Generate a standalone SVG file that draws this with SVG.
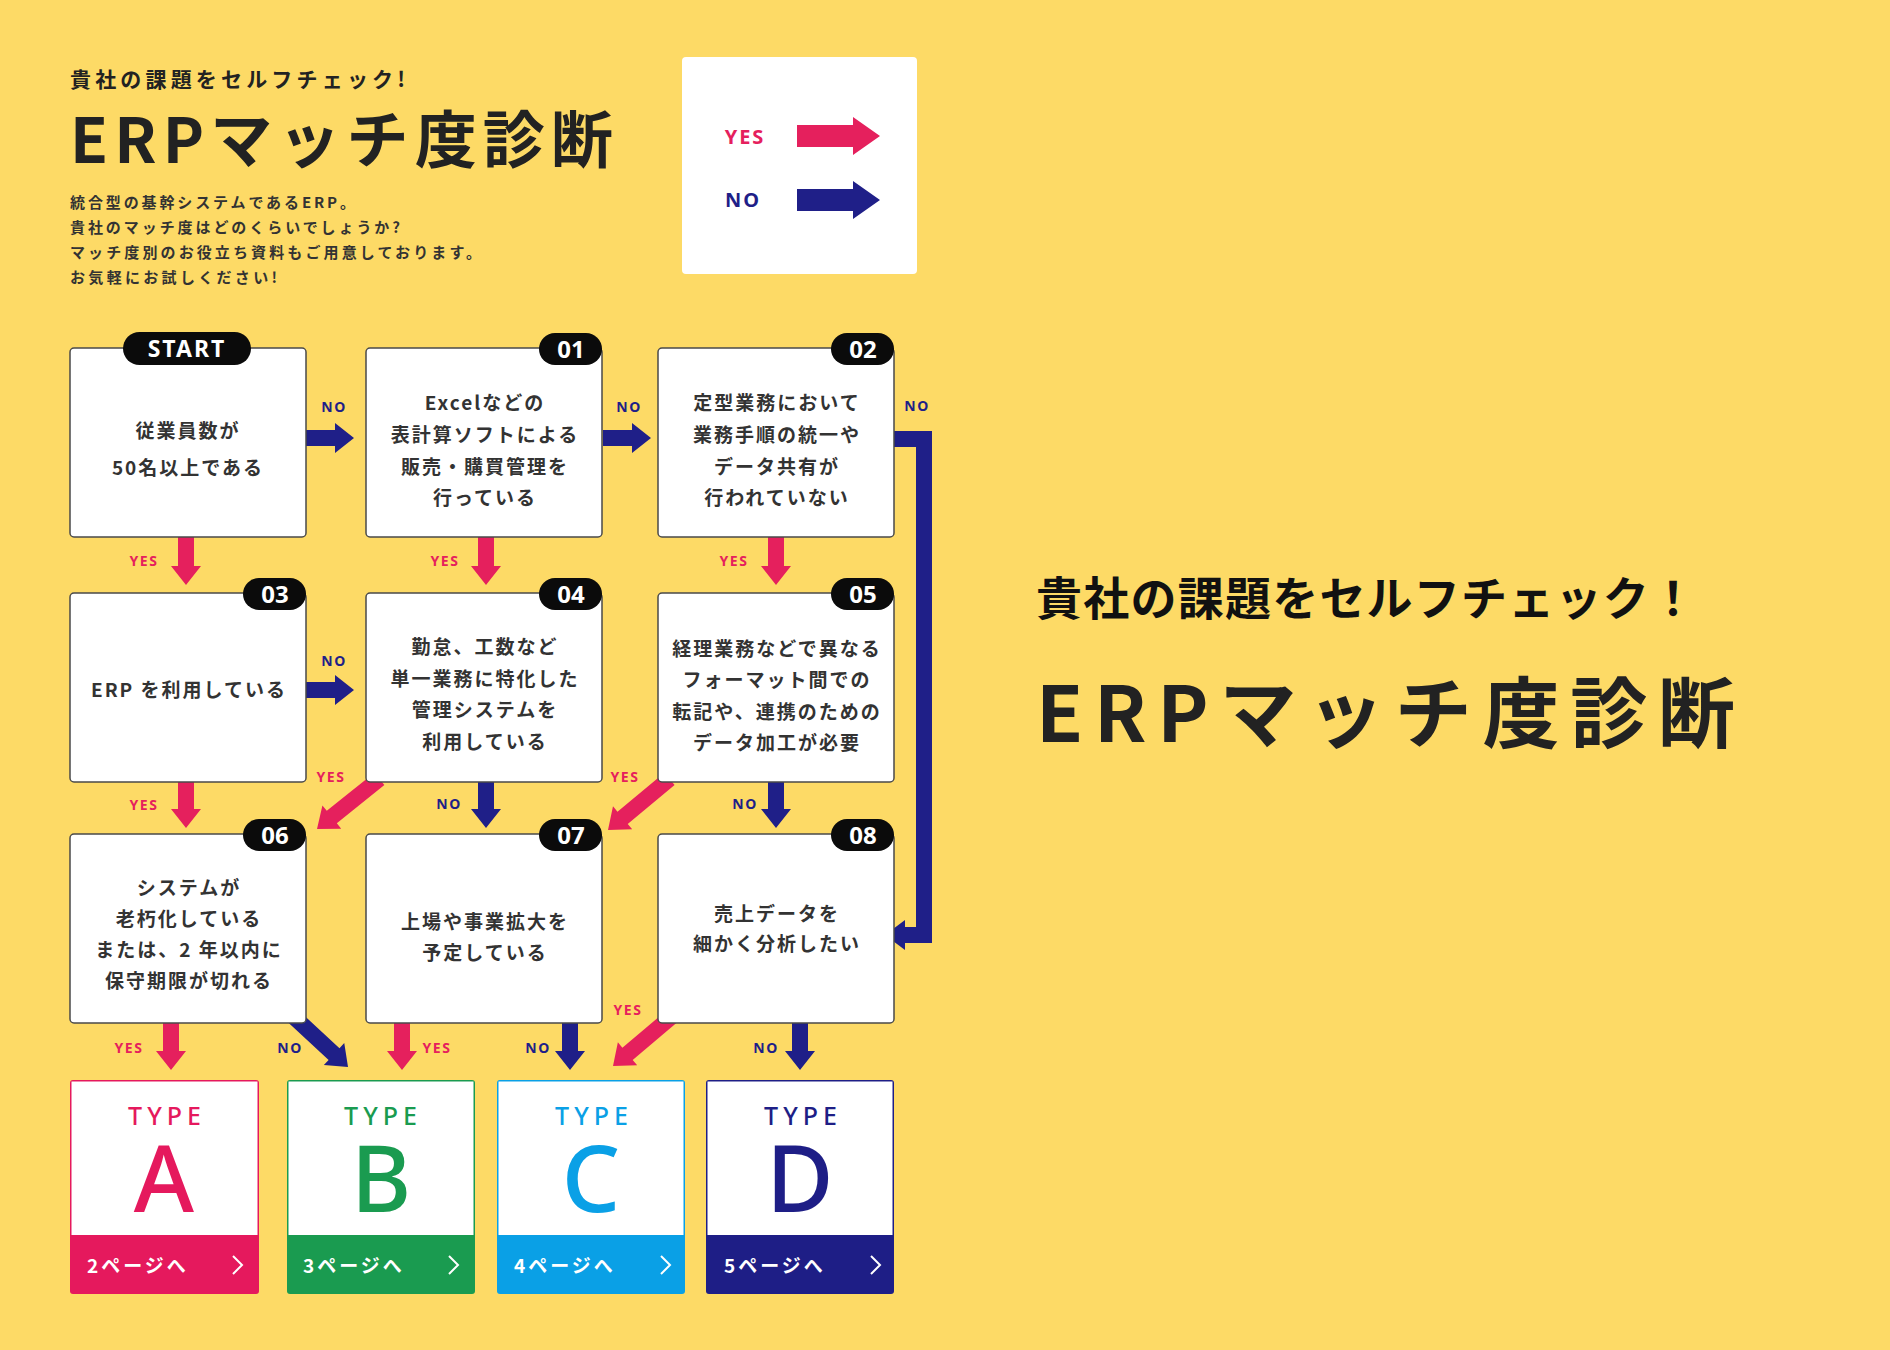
<svg xmlns="http://www.w3.org/2000/svg" xmlns:xlink="http://www.w3.org/1999/xlink" width="1890" height="1350" viewBox="0 0 1890 1350">
<style>
.jp{font-family:"Noto Sans CJK JP","Noto Sans",sans-serif;}
.en{font-family:"Noto Sans","Liberation Sans",sans-serif;}
.box{fill:#fff;stroke:#4a4a4a;stroke-width:1.5;}
.bt{font-family:"Noto Sans CJK JP",sans-serif;font-size:19px;font-weight:700;fill:#333;text-anchor:middle;letter-spacing:2px;}
.badge{fill:#0b0b0b;}
.bn{font-family:"Noto Sans","Liberation Sans",sans-serif;font-size:24px;font-weight:700;fill:#fff;text-anchor:middle;}
.yes{fill:#E5205D;}
.no{fill:#1F1F88;}
.lbl{font-family:"Noto Sans","Liberation Sans",sans-serif;font-size:14px;font-weight:700;letter-spacing:1.5px;text-anchor:middle;}
.tp{font-family:"Noto Sans","Liberation Sans",sans-serif;font-size:25px;font-weight:500;letter-spacing:5px;text-anchor:middle;}
.big{font-family:"Noto Sans","Liberation Sans",sans-serif;font-size:92px;font-weight:500;text-anchor:middle;}
.pg{font-family:"Noto Sans CJK JP",sans-serif;font-size:19px;font-weight:700;fill:#fff;letter-spacing:3px;}
.chev{fill:none;stroke:#fff;stroke-width:2;}
</style>
<defs>
<polygon id="a48" points="-48,-8 -19,-8 -19,-15 0,0 -19,15 -19,8 -48,8"/>
<polygon id="a80" points="-80,-8 -19,-8 -19,-15 0,0 -19,15 -19,8 -80,8"/>
</defs>
<rect x="0" y="0" width="1890" height="1350" fill="#FDDA66"/>

<g id="header">
<text class="jp" x="70" y="87" font-size="21" font-weight="700" fill="#222" textLength="335" lengthAdjust="spacing">貴社の課題をセルフチェック!</text>
<text class="jp" x="70" y="163" font-size="62" font-weight="700" fill="#222" textLength="543" lengthAdjust="spacing">ERPマッチ度診断</text>
<g class="jp" font-size="15" font-weight="700" fill="#333">
<text x="70" y="208" textLength="285" lengthAdjust="spacing">統合型の基幹システムであるERP。</text>
<text x="70" y="233" textLength="330" lengthAdjust="spacing">貴社のマッチ度はどのくらいでしょうか?</text>
<text x="70" y="258" textLength="411" lengthAdjust="spacing">マッチ度別のお役立ち資料もご用意しております。</text>
<text x="70" y="283" textLength="207" lengthAdjust="spacing">お気軽にお試しください!</text>
</g>
</g>

<g id="legend">
<rect x="682" y="57" width="235" height="217" rx="4" fill="#fff"/>
<text class="en yes" x="745" y="144" font-size="20" font-weight="700" letter-spacing="2" text-anchor="middle">YES</text>
<polygon class="yes" points="797,125 853,125 853,117 880,136 853,155 853,147 797,147"/>
<text class="en no" x="743" y="207" font-size="20" font-weight="700" letter-spacing="2" text-anchor="middle">NO</text>
<polygon class="no" points="797,189 853,189 853,181 880,200 853,219 853,211 797,211"/>
</g>

<g id="title-right">
<text class="jp" x="1036" y="615" font-size="46" font-weight="700" fill="#111" textLength="660" lengthAdjust="spacing">貴社の課題をセルフチェック！</text>
<text class="jp" x="1036" y="742" font-size="77" font-weight="700" fill="#222" textLength="699" lengthAdjust="spacing">ERPマッチ度診断</text>
</g>

<g id="connectors">
<use xlink:href="#a48" class="no" transform="translate(354,438)"/>
<use xlink:href="#a48" class="no" transform="translate(651,438)"/>
<polygon class="no" points="894,431 932,431 932,943 905,943 905,950 885,935 905,920 905,927 916,927 916,447 894,447"/>
<use xlink:href="#a48" class="yes" transform="translate(186,585) rotate(90)"/>
<use xlink:href="#a48" class="yes" transform="translate(486,585) rotate(90)"/>
<use xlink:href="#a48" class="yes" transform="translate(776,585) rotate(90)"/>
<use xlink:href="#a48" class="no" transform="translate(354,690)"/>
<use xlink:href="#a48" class="yes" transform="translate(186,828) rotate(90)"/>
<use xlink:href="#a48" class="no" transform="translate(486,828) rotate(90)"/>
<use xlink:href="#a48" class="no" transform="translate(776,828) rotate(90)"/>
<use xlink:href="#a80" class="yes" transform="translate(317,829) rotate(141.2)"/>
<use xlink:href="#a80" class="yes" transform="translate(608,830) rotate(140.2)"/>
<use xlink:href="#a48" class="yes" transform="translate(171,1070) rotate(90)"/>
<use xlink:href="#a48" class="yes" transform="translate(402,1070) rotate(90)"/>
<use xlink:href="#a48" class="no" transform="translate(570,1070) rotate(90)"/>
<use xlink:href="#a48" class="no" transform="translate(800,1070) rotate(90)"/>
<use xlink:href="#a80" class="no" transform="translate(348,1067) rotate(42.8)"/>
<use xlink:href="#a80" class="yes" transform="translate(613,1066) rotate(139.9)"/>
<text class="lbl no" x="334" y="412">NO</text>
<text class="lbl no" x="629" y="412">NO</text>
<text class="lbl no" x="917" y="411">NO</text>
<text class="lbl yes" x="144" y="566">YES</text>
<text class="lbl yes" x="445" y="566">YES</text>
<text class="lbl yes" x="734" y="566">YES</text>
<text class="lbl no" x="334" y="666">NO</text>
<text class="lbl yes" x="144" y="810">YES</text>
<text class="lbl yes" x="331" y="782">YES</text>
<text class="lbl no" x="449" y="809">NO</text>
<text class="lbl yes" x="625" y="782">YES</text>
<text class="lbl no" x="745" y="809">NO</text>
<text class="lbl yes" x="129" y="1053">YES</text>
<text class="lbl no" x="290" y="1053">NO</text>
<text class="lbl yes" x="437" y="1053">YES</text>
<text class="lbl no" x="538" y="1053">NO</text>
<text class="lbl yes" x="628" y="1015">YES</text>
<text class="lbl no" x="766" y="1053">NO</text>
</g>

<g id="node-start">
<rect class="box" x="70" y="348" width="236" height="189" rx="4"/>
<rect class="badge" x="123" y="332" width="128" height="33" rx="16.5"/>
<text class="en" x="187" y="357" font-size="23" font-weight="700" fill="#fff" letter-spacing="2" text-anchor="middle">START</text>
<text class="bt" x="188" y="438" font-size="22" letter-spacing="2.5">従業員数が</text>
<text class="bt" x="188" y="475" font-size="22" letter-spacing="2.5">50名以上である</text>
</g>
<g id="node-01">
<rect class="box" x="366" y="348" width="236" height="189" rx="4"/>
<rect class="badge" x="539" y="333" width="63" height="32" rx="16"/>
<text class="bn" x="571" y="358">01</text>
<text class="bt" x="485" y="410">Excelなどの</text>
<text class="bt" x="485" y="442">表計算ソフトによる</text>
<text class="bt" x="485" y="474">販売・購買管理を</text>
<text class="bt" x="485" y="505">行っている</text>
</g>
<g id="node-02">
<rect class="box" x="658" y="348" width="236" height="189" rx="4"/>
<rect class="badge" x="831" y="333" width="63" height="32" rx="16"/>
<text class="bn" x="863" y="358">02</text>
<text class="bt" x="777" y="410">定型業務において</text>
<text class="bt" x="777" y="442">業務手順の統一や</text>
<text class="bt" x="777" y="474">データ共有が</text>
<text class="bt" x="777" y="505">行われていない</text>
</g>
<g id="node-03">
<rect class="box" x="70" y="593" width="236" height="189" rx="4"/>
<rect class="badge" x="243" y="578" width="63" height="32" rx="16"/>
<text class="bn" x="275" y="603">03</text>
<text class="bt" x="189" y="697">ERP を利用している</text>
</g>
<g id="node-04">
<rect class="box" x="366" y="593" width="236" height="189" rx="4"/>
<rect class="badge" x="539" y="578" width="63" height="32" rx="16"/>
<text class="bn" x="571" y="603">04</text>
<text class="bt" x="485" y="654">勤怠、工数など</text>
<text class="bt" x="485" y="686">単一業務に特化した</text>
<text class="bt" x="485" y="717">管理システムを</text>
<text class="bt" x="485" y="749">利用している</text>
</g>
<g id="node-05">
<rect class="box" x="658" y="593" width="236" height="189" rx="4"/>
<rect class="badge" x="831" y="578" width="63" height="32" rx="16"/>
<text class="bn" x="863" y="603">05</text>
<text class="bt" x="777" y="656">経理業務などで異なる</text>
<text class="bt" x="777" y="687">フォーマット間での</text>
<text class="bt" x="777" y="719">転記や、連携のための</text>
<text class="bt" x="777" y="750">データ加工が必要</text>
</g>
<g id="node-06">
<rect class="box" x="70" y="834" width="236" height="189" rx="4"/>
<rect class="badge" x="243" y="819" width="63" height="32" rx="16"/>
<text class="bn" x="275" y="844">06</text>
<text class="bt" x="189" y="895">システムが</text>
<text class="bt" x="189" y="926">老朽化している</text>
<text class="bt" x="189" y="957">または、2 年以内に</text>
<text class="bt" x="189" y="988">保守期限が切れる</text>
</g>
<g id="node-07">
<rect class="box" x="366" y="834" width="236" height="189" rx="4"/>
<rect class="badge" x="539" y="819" width="63" height="32" rx="16"/>
<text class="bn" x="571" y="844">07</text>
<text class="bt" x="485" y="929">上場や事業拡大を</text>
<text class="bt" x="485" y="960">予定している</text>
</g>
<g id="node-08">
<rect class="box" x="658" y="834" width="236" height="189" rx="4"/>
<rect class="badge" x="831" y="819" width="63" height="32" rx="16"/>
<text class="bn" x="863" y="844">08</text>
<text class="bt" x="777" y="921">売上データを</text>
<text class="bt" x="777" y="951">細かく分析したい</text>
</g>

<g id="type-a">
<rect x="70" y="1080" width="189" height="214" rx="3" fill="#E5195D"/>
<rect x="71.5" y="1081.5" width="186" height="153.5" fill="#fff"/>
<text class="tp" x="167" y="1125" fill="#E5195D">TYPE</text>
<text class="big" x="164" y="1212" fill="#E5195D">A</text>
<text class="pg" x="87" y="1273">2ページへ</text>
<polyline class="chev" points="233,1256 242,1265 233,1274"/>
</g>
<g id="type-b">
<rect x="287" y="1080" width="188" height="214" rx="3" fill="#1A9B50"/>
<rect x="288.5" y="1081.5" width="185" height="153.5" fill="#fff"/>
<text class="tp" x="383" y="1125" fill="#1A9B50">TYPE</text>
<text class="big" x="381" y="1212" fill="#1A9B50">B</text>
<text class="pg" x="303" y="1273">3ページへ</text>
<polyline class="chev" points="449,1256 458,1265 449,1274"/>
</g>
<g id="type-c">
<rect x="497" y="1080" width="188" height="214" rx="3" fill="#0AA0E6"/>
<rect x="498.5" y="1081.5" width="185" height="153.5" fill="#fff"/>
<text class="tp" x="594" y="1125" fill="#0AA0E6">TYPE</text>
<text class="big" x="591" y="1212" fill="#0AA0E6">C</text>
<text class="pg" x="514" y="1273">4ページへ</text>
<polyline class="chev" points="661,1256 670,1265 661,1274"/>
</g>
<g id="type-d">
<rect x="706" y="1080" width="188" height="214" rx="3" fill="#1E1E86"/>
<rect x="707.5" y="1081.5" width="185" height="153.5" fill="#fff"/>
<text class="tp" x="803" y="1125" fill="#1E1E86">TYPE</text>
<text class="big" x="800" y="1212" fill="#1E1E86">D</text>
<text class="pg" x="724" y="1273">5ページへ</text>
<polyline class="chev" points="871,1256 880,1265 871,1274"/>
</g>
</svg>
